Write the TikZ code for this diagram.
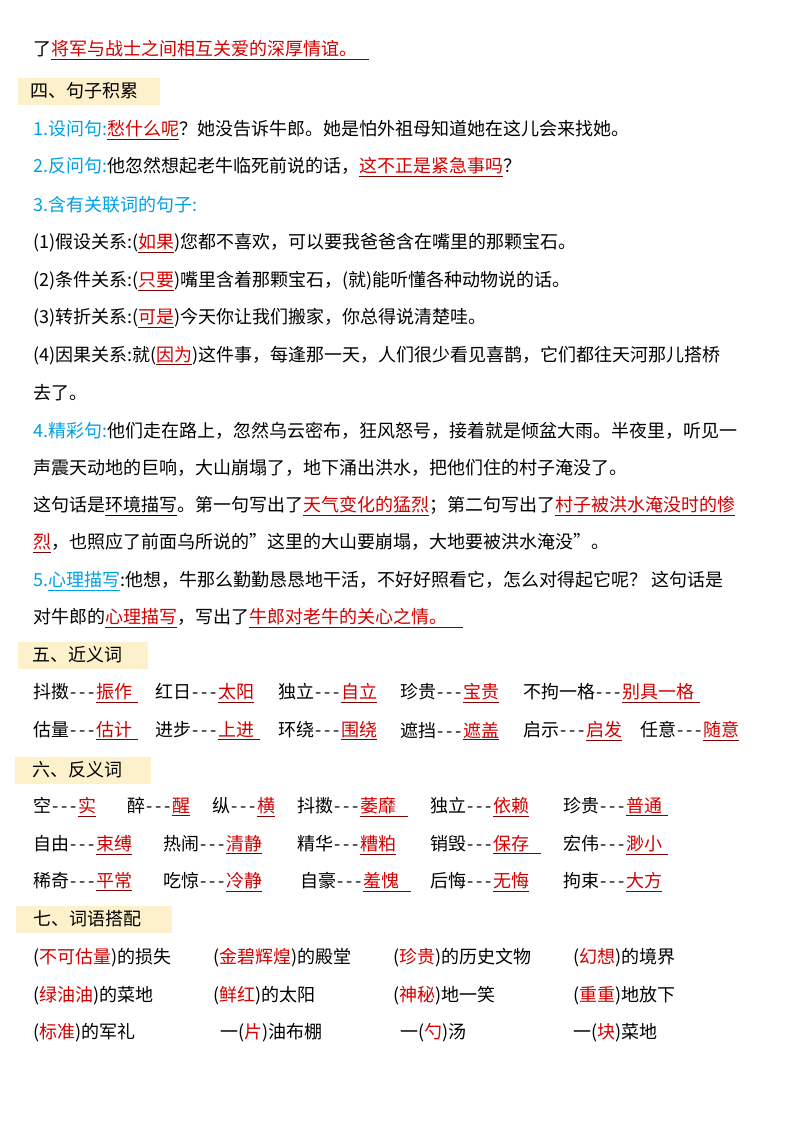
\documentclass[tikz,border=0pt]{standalone}
\usepackage{fontspec}
\setmainfont{Noto Sans CJK SC}
\definecolor{rd}{RGB}{210,0,0}
\definecolor{bl}{RGB}{0,160,230}
\definecolor{hd}{RGB}{253,241,204}
\newcommand\rl[1]{\textcolor{rd!60!black}{\underline{\textcolor{rd}{#1}}}}
\newcommand\rr[1]{\textcolor{rd}{#1}}
\newcommand\bb[1]{\textcolor{bl}{#1}}
\newcommand\dd{\makebox[9pt]{-}\makebox[9pt]{-}\makebox[9pt]{-}}
\begin{document}
\begin{tikzpicture}[x=1pt,y=1pt,
 t/.style={anchor=west,inner sep=0pt,font=\fontsize{18}{22}\selectfont},
 h/.style={fill=hd,minimum height=27pt,anchor=west,inner sep=0pt,text width=#1,align=left,font=\fontsize{18}{22}\selectfont}]
\useasboundingbox (0,0) rectangle (800,-1132);
\fill[white] (0,0) rectangle (800,-1132);
\node[t] (l0) at (33,-50) {了\rl{将军与战士之间相互关爱的深厚情谊。\hspace{12pt}}};
\node[h=142pt] (h4) at (18,-91) {\hspace{12pt}四、句子积累};
\node[t] (a1) at (33,-130) {\bb{1.设问句:}\rl{愁什么呢}？她没告诉牛郎。她是怕外祖母知道她在这儿会来找她。};
\node[t] (a2) at (33,-167) {\bb{2.反问句:}他忽然想起老牛临死前说的话，\rl{这不正是紧急事吗}？};
\node[t] (a3) at (33,-205) {\bb{3.含有关联词的句子:}};
\node[t] (a4) at (33,-243) {(1)假设关系:(\rl{如果})您都不喜欢，可以要我爸爸含在嘴里的那颗宝石。};
\node[t] (a5) at (33,-281) {(2)条件关系:(\rl{只要})嘴里含着那颗宝石，(就)能听懂各种动物说的话。};
\node[t] (a6) at (33,-318) {(3)转折关系:(\rl{可是})今天你让我们搬家，你总得说清楚哇。};
\node[t] (a7) at (33,-356) {(4)因果关系:就(\rl{因为})这件事，每逢那一天，人们很少看见喜鹊，它们都往天河那儿搭桥};
\node[t] (a8) at (33,-393) {去了。};
\node[t] (a9) at (33,-431) {\bb{4.精彩句:}他们走在路上，忽然乌云密布，狂风怒号，接着就是倾盆大雨。半夜里，听见一};
\node[t] (a10) at (33,-468) {声震天动地的巨响，大山崩塌了，地下涌出洪水，把他们住的村子淹没了。};
\node[t] (a11) at (33,-506) {这句话是\underline{环境描写}。第一句写出了\rl{天气变化的猛烈}；第二句写出了\rl{村子被洪水淹没时的惨}};
\node[t] (a12) at (33,-543) {\rl{烈}，也照应了前面乌所说的"这里的大山要崩塌，大地要被洪水淹没"。};
\node[t] (a13) at (33,-581) {\bb{5.}\bb{\underline{心理描写}}:他想，牛那么勤勤恳恳地干活，不好好照看它，怎么对得起它呢？ 这句话是};
\node[t] (a14) at (33,-618) {对牛郎的\rl{心理描写}，写出了\rl{牛郎对老牛的关心之情。\hspace{16pt}}};
\node[h=130pt] (h5) at (18,-655) {\hspace{14pt}五、近义词};
\node[t] (b1) at (33,-693) {抖擞\dd\rl{振作\hspace{6pt}}};
\node[t] (b2) at (155,-693) {红日\dd\rl{太阳}};
\node[t] (b3) at (278,-693) {独立\dd\rl{自立}};
\node[t] (b4) at (400,-693) {珍贵\dd\rl{宝贵}};
\node[t] (b5) at (523,-693) {不拘一格\dd\rl{别具一格\hspace{6pt}}};
\node[t] (b6) at (33,-731) {估量\dd\rl{估计\hspace{6pt}}};
\node[t] (b7) at (155,-731) {进步\dd\rl{上进\hspace{6pt}}};
\node[t] (b8) at (278,-731) {环绕\dd\rl{围绕}};
\node[t] (b9) at (400,-731) {遮挡\dd\rl{遮盖}};
\node[t] (b10) at (523,-731) {启示\dd\rl{启发}};
\node[t] (b11) at (640,-731) {任意\dd\rl{随意}};
\node[h=136pt] (h6) at (15,-770) {\hspace{17pt}六、反义词};
\node[t] (c1) at (33,-807) {空\dd\rl{实}};
\node[t] (c2) at (127,-807) {醉\dd\rl{醒}};
\node[t] (c3) at (212,-807) {纵\dd\rl{横}};
\node[t] (c4) at (297,-807) {抖擞\dd\rl{萎靡\hspace{12pt}}};
\node[t] (c5) at (430,-807) {独立\dd\rl{依赖}};
\node[t] (c6) at (563,-807) {珍贵\dd\rl{普通\hspace{6pt}}};
\node[t] (c7) at (33,-845) {自由\dd\rl{束缚}};
\node[t] (c8) at (163,-845) {热闹\dd\rl{清静}};
\node[t] (c9) at (297,-845) {精华\dd\rl{糟粕}};
\node[t] (c10) at (430,-845) {销毁\dd\rl{保存\hspace{12pt}}};
\node[t] (c11) at (563,-845) {宏伟\dd\rl{渺小\hspace{6pt}}};
\node[t] (c12) at (33,-882) {稀奇\dd\rl{平常}};
\node[t] (c13) at (163,-882) {吃惊\dd\rl{冷静}};
\node[t] (c14) at (300,-882) {自豪\dd\rl{羞愧\hspace{12pt}}};
\node[t] (c15) at (430,-882) {后悔\dd\rl{无悔}};
\node[t] (c16) at (563,-882) {拘束\dd\rl{大方}};
\node[h=156pt] (h7) at (16,-919) {\hspace{17pt}七、词语搭配};
\node[t] (d1) at (33,-958) {(\rr{不可估量})的损失};
\node[t] (d2) at (213,-958) {(\rr{金碧辉煌})的殿堂};
\node[t] (d3) at (393,-958) {(\rr{珍贵})的历史文物};
\node[t] (d4) at (573,-958) {(\rr{幻想})的境界};
\node[t] (d5) at (33,-996) {(\rr{绿油油})的菜地};
\node[t] (d6) at (213,-996) {(\rr{鲜红})的太阳};
\node[t] (d7) at (393,-996) {(\rr{神秘})地一笑};
\node[t] (d8) at (573,-996) {(\rr{重重})地放下};
\node[t] (d9) at (33,-1033) {(\rr{标准})的军礼};
\node[t] (d10) at (220,-1033) {一(\rr{片})油布棚};
\node[t] (d11) at (400,-1033) {一(\rr{勺})汤};
\node[t] (d12) at (573,-1033) {一(\rr{块})菜地};
\end{tikzpicture}
\end{document}
